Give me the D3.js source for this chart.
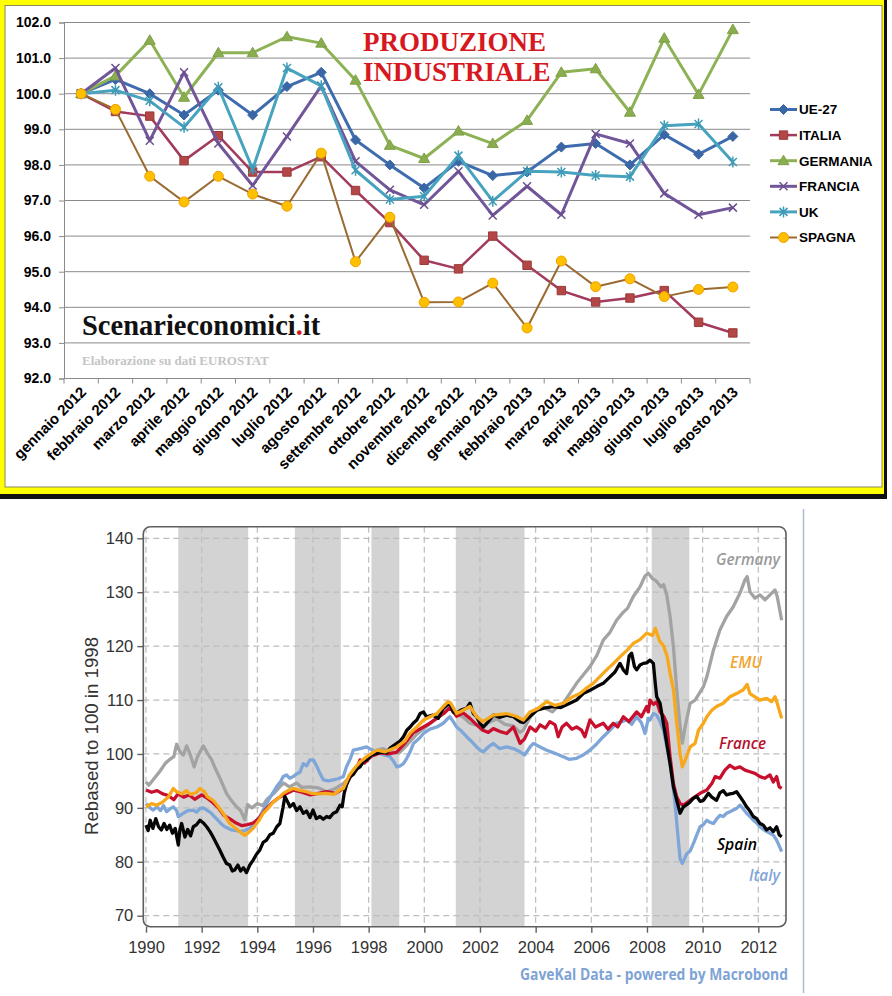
<!DOCTYPE html>
<html><head><meta charset="utf-8">
<script src="https://cdn.jsdelivr.net/npm/d3@7"></script>
<style>html,body{margin:0;padding:0;background:#fff;} svg{display:block;}</style>
</head><body>
<svg id="c" width="892" height="996"></svg>
<script>
// ---------------- TOP CHART DATA ----------------
const months = ["gennaio 2012","febbraio 2012","marzo 2012","aprile 2012","maggio 2012","giugno 2012","luglio 2012","agosto 2012","settembre 2012","ottobre 2012","novembre 2012","dicembre 2012","gennaio 2013","febbraio 2013","marzo 2013","aprile 2013","maggio 2013","giugno 2013","luglio 2013","agosto 2013"];
const ue27     = [100.0,100.4,100.0,99.4,100.1,99.4,100.2,100.6,98.7,98.0,97.35,98.1,97.7,97.8,98.5,98.6,98.0,98.85,98.3,98.8];
const italia   = [100.0,99.5,99.37,98.12,98.82,97.8,97.8,98.23,97.28,96.38,95.32,95.08,96.0,95.18,94.47,94.15,94.26,94.47,93.58,93.28];
const germania = [100.0,100.5,101.5,99.9,101.15,101.15,101.6,101.42,100.38,98.55,98.18,98.95,98.6,99.25,100.6,100.7,99.48,101.56,99.98,101.8];
const francia  = [100.0,100.72,98.68,100.6,98.6,97.42,98.8,100.22,98.1,97.3,96.88,97.82,96.58,97.4,96.6,98.87,98.6,97.2,96.6,96.8];
const uk       = [100.0,100.1,99.8,99.06,100.18,97.88,100.72,100.22,97.85,97.03,97.12,98.26,96.98,97.82,97.8,97.7,97.67,99.1,99.15,98.08];
const spagna   = [100.0,99.56,97.68,96.96,97.68,97.18,96.84,98.33,95.28,96.53,94.14,94.15,94.68,93.42,95.3,94.58,94.8,94.3,94.5,94.57];
const topYTicks = [92,93,94,95,96,97,98,99,100,101,102];
const topSeriesNames = ["UE-27","ITALIA","GERMANIA","FRANCIA","UK","SPAGNA"];

// ---------------- BOTTOM CHART DATA ----------------
const bottomYTicks = [70,80,90,100,110,120,130,140];
const bottomXTicks = [1990,1992,1994,1996,1998,2000,2002,2004,2006,2008,2010,2012];
const recessionStart = [1991.16,1995.35,1998.1,2001.13,2008.17];
const recessionEnd   = [1993.67,1997.0,1999.1,2003.6,2009.52];
const germany = [[1990.0,94.8],[1990.1,94.2],[1990.3,95.5],[1990.5,96.8],[1990.7,98.3],[1990.86,99.0],[1991.0,99.5],[1991.1,101.8],[1991.22,100.4],[1991.34,99.8],[1991.46,101.5],[1991.58,100.0],[1991.73,97.6],[1991.85,99.5],[1992.06,101.5],[1992.2,100.2],[1992.35,99.0],[1992.5,97.2],[1992.7,95.0],[1992.9,92.6],[1993.05,91.5],[1993.25,90.2],[1993.4,89.5],[1993.55,87.8],[1993.65,90.6],[1993.8,90.0],[1994.0,90.8],[1994.2,90.4],[1994.35,91.6],[1994.6,92.7],[1994.82,94.0],[1994.95,94.6],[1995.15,93.9],[1995.41,94.6],[1995.6,93.8],[1995.89,93.9],[1996.2,93.7],[1996.5,93.0],[1996.8,93.6],[1997.09,94.5],[1997.33,95.8],[1997.6,97.5],[1997.9,99.0],[1998.2,100.5],[1998.5,101.0],[1998.8,100.4],[1999.1,100.2],[1999.4,101.8],[1999.7,103.5],[2000.0,104.8],[2000.3,106.0],[2000.6,107.3],[2000.92,109.0],[2001.16,107.5],[2001.4,106.8],[2001.64,105.7],[2001.9,105.3],[2002.1,104.8],[2002.3,105.8],[2002.6,106.5],[2002.9,105.5],[2003.2,105.2],[2003.44,104.0],[2003.56,104.4],[2003.8,106.8],[2004.04,108.1],[2004.3,108.6],[2004.6,107.8],[2004.8,108.8],[2004.99,109.4],[2005.2,111.0],[2005.47,113.1],[2005.7,114.6],[2005.95,116.2],[2006.2,118.3],[2006.43,121.1],[2006.65,122.4],[2006.91,124.8],[2007.15,126.3],[2007.3,127.0],[2007.51,129.2],[2007.75,131.0],[2007.93,133.0],[2008.05,133.5],[2008.2,132.5],[2008.35,132.0],[2008.5,131.0],[2008.6,131.4],[2008.71,129.5],[2008.83,125.5],[2008.95,119.9],[2009.07,111.9],[2009.19,105.1],[2009.27,102.0],[2009.37,105.0],[2009.55,109.4],[2009.73,110.0],[2010.03,112.5],[2010.15,114.3],[2010.39,119.3],[2010.62,123.0],[2010.86,125.5],[2011.1,127.3],[2011.34,129.8],[2011.52,132.3],[2011.6,132.9],[2011.7,130.1],[2011.88,128.9],[2012.06,129.5],[2012.24,128.6],[2012.42,129.5],[2012.6,130.4],[2012.68,129.2],[2012.84,124.8]];
const emu = [[1990.0,90.2],[1990.2,90.8],[1990.38,90.5],[1990.6,91.1],[1990.8,92.0],[1990.98,93.6],[1991.1,93.0],[1991.3,92.6],[1991.45,93.2],[1991.6,92.5],[1991.8,92.8],[1991.94,93.6],[1992.1,93.0],[1992.2,92.1],[1992.41,91.4],[1992.6,90.2],[1992.77,89.0],[1993.01,87.1],[1993.2,86.3],[1993.37,85.6],[1993.55,84.9],[1993.7,85.5],[1993.85,86.2],[1994.05,87.6],[1994.21,89.0],[1994.4,90.0],[1994.57,91.1],[1994.8,92.0],[1994.93,92.7],[1995.1,93.2],[1995.29,93.6],[1995.5,93.3],[1995.77,93.0],[1995.95,92.7],[1996.2,92.6],[1996.49,92.7],[1996.75,92.5],[1996.95,93.3],[1997.09,93.6],[1997.3,96.0],[1997.5,97.4],[1997.69,98.5],[1997.93,99.5],[1998.29,100.7],[1998.6,100.4],[1999.01,101.3],[1999.3,102.4],[1999.49,103.9],[1999.73,105.0],[1999.97,106.3],[2000.25,107.0],[2000.45,107.5],[2000.68,108.8],[2000.85,109.7],[2000.95,109.4],[2001.16,107.5],[2001.4,108.1],[2001.64,108.8],[2001.88,106.9],[2002.1,106.0],[2002.48,107.2],[2002.96,107.5],[2003.3,107.0],[2003.56,106.3],[2003.8,107.8],[2004.1,108.5],[2004.4,109.7],[2004.7,109.0],[2004.99,109.4],[2005.3,110.5],[2005.59,111.2],[2005.85,112.3],[2006.07,113.1],[2006.3,114.3],[2006.55,115.6],[2006.8,116.8],[2007.03,118.0],[2007.3,119.3],[2007.51,120.5],[2007.75,121.2],[2007.99,122.4],[2008.2,122.0],[2008.3,123.3],[2008.45,121.0],[2008.6,120.0],[2008.72,118.2],[2008.83,115.0],[2008.95,112.0],[2009.07,105.7],[2009.19,100.1],[2009.27,97.6],[2009.37,98.8],[2009.55,101.3],[2009.73,101.96],[2009.85,104.4],[2010.03,105.7],[2010.15,106.9],[2010.33,108.1],[2010.5,108.8],[2010.74,109.4],[2010.98,110.6],[2011.22,111.2],[2011.46,111.9],[2011.6,112.9],[2011.7,111.2],[2011.88,110.6],[2012.06,110.0],[2012.3,110.3],[2012.48,109.7],[2012.6,110.6],[2012.68,109.4],[2012.84,106.6]];
const france = [[1990.0,93.3],[1990.2,92.9],[1990.4,93.2],[1990.6,92.6],[1990.8,92.3],[1991.0,91.5],[1991.15,92.6],[1991.35,92.0],[1991.55,92.4],[1991.75,91.6],[1992.0,92.4],[1992.2,91.8],[1992.4,91.0],[1992.6,90.0],[1992.8,88.6],[1993.0,88.0],[1993.2,87.3],[1993.45,86.7],[1993.65,86.9],[1993.85,87.2],[1994.05,88.0],[1994.25,89.4],[1994.5,90.8],[1994.75,91.8],[1995.0,92.5],[1995.3,93.3],[1995.6,92.9],[1995.9,92.4],[1996.2,92.7],[1996.5,93.0],[1996.8,92.7],[1997.1,93.6],[1997.35,95.8],[1997.55,97.0],[1997.69,98.9],[1997.85,98.3],[1998.1,99.6],[1998.4,100.2],[1998.7,100.0],[1999.0,100.3],[1999.3,102.0],[1999.6,103.9],[1999.97,105.0],[2000.2,105.7],[2000.45,106.6],[2000.7,107.5],[2000.92,108.6],[2001.16,107.0],[2001.4,107.6],[2001.64,106.6],[2001.88,105.4],[2002.1,104.4],[2002.3,104.0],[2002.48,104.7],[2002.7,104.2],[2002.96,103.8],[2003.2,105.0],[2003.44,101.96],[2003.6,102.8],[2003.8,105.0],[2004.0,104.2],[2004.16,105.4],[2004.35,104.8],[2004.51,106.0],[2004.7,105.4],[2004.81,103.2],[2004.95,105.0],[2005.11,105.7],[2005.3,104.6],[2005.47,105.0],[2005.65,104.4],[2005.77,103.2],[2005.95,106.3],[2006.15,105.0],[2006.43,105.7],[2006.6,104.6],[2006.79,105.7],[2006.95,105.0],[2007.15,106.9],[2007.35,106.0],[2007.63,107.8],[2007.8,106.9],[2007.99,108.8],[2008.05,107.8],[2008.11,110.0],[2008.23,109.2],[2008.35,109.7],[2008.47,107.8],[2008.6,107.0],[2008.71,105.7],[2008.83,99.5],[2008.95,94.5],[2009.07,92.0],[2009.19,90.8],[2009.31,90.5],[2009.55,91.4],[2009.73,92.1],[2009.91,92.7],[2010.15,93.3],[2010.33,94.5],[2010.45,95.8],[2010.62,95.5],[2010.8,97.0],[2010.98,97.9],[2011.16,97.3],[2011.34,97.6],[2011.52,97.0],[2011.7,96.7],[2011.88,96.4],[2012.06,95.8],[2012.24,95.5],[2012.42,96.1],[2012.54,94.8],[2012.66,95.8],[2012.75,93.9],[2012.84,93.6]];
const spain = [[1990.0,86.8],[1990.08,85.8],[1990.15,87.7],[1990.25,86.2],[1990.35,88.0],[1990.45,86.5],[1990.55,85.9],[1990.65,87.1],[1990.75,86.0],[1990.85,86.8],[1990.95,85.3],[1991.05,86.2],[1991.16,83.1],[1991.22,86.0],[1991.28,87.1],[1991.4,84.6],[1991.5,86.0],[1991.6,84.8],[1991.7,86.5],[1991.82,86.9],[1991.94,87.7],[1992.06,87.2],[1992.18,86.5],[1992.3,85.6],[1992.41,84.6],[1992.53,83.4],[1992.65,82.2],[1992.77,80.9],[1992.89,79.7],[1993.01,79.4],[1993.1,78.3],[1993.19,78.5],[1993.3,79.4],[1993.4,78.3],[1993.5,78.9],[1993.61,78.0],[1993.73,79.4],[1993.85,80.3],[1993.97,81.4],[1994.09,82.2],[1994.21,83.6],[1994.33,84.0],[1994.45,85.0],[1994.57,85.3],[1994.7,86.5],[1994.81,87.1],[1994.92,90.0],[1994.99,92.1],[1995.1,91.0],[1995.17,90.2],[1995.3,90.8],[1995.41,89.5],[1995.53,90.2],[1995.65,89.0],[1995.77,89.4],[1995.89,88.2],[1996.0,89.6],[1996.12,88.0],[1996.25,88.4],[1996.37,87.9],[1996.49,88.4],[1996.6,88.2],[1996.73,89.0],[1996.85,89.3],[1996.97,90.5],[1997.05,90.2],[1997.12,92.7],[1997.2,94.2],[1997.33,95.8],[1997.45,96.2],[1997.57,97.2],[1997.69,97.6],[1997.81,98.6],[1997.93,98.9],[1998.1,99.8],[1998.29,100.1],[1998.5,100.4],[1998.65,100.2],[1998.77,101.1],[1999.01,101.96],[1999.13,102.4],[1999.25,103.2],[1999.37,104.4],[1999.49,105.0],[1999.6,105.7],[1999.73,106.3],[1999.85,107.5],[1999.97,107.8],[2000.08,106.9],[2000.3,107.2],[2000.5,106.6],[2000.68,108.5],[2000.8,109.0],[2000.92,109.4],[2001.04,107.8],[2001.16,107.5],[2001.3,108.1],[2001.52,108.5],[2001.64,109.4],[2001.76,107.5],[2001.88,106.9],[2002.0,105.7],[2002.12,105.0],[2002.3,106.0],[2002.48,107.2],[2002.7,106.8],[2002.96,107.2],[2003.2,106.9],[2003.44,106.0],[2003.56,105.8],[2003.8,107.0],[2004.04,108.1],[2004.3,108.5],[2004.63,108.8],[2004.9,108.6],[2005.23,109.4],[2005.47,110.0],[2005.71,111.2],[2005.95,111.8],[2006.19,112.5],[2006.43,113.1],[2006.67,114.3],[2006.85,115.2],[2007.03,116.8],[2007.15,115.6],[2007.27,114.9],[2007.36,118.2],[2007.45,118.7],[2007.55,116.2],[2007.63,115.6],[2007.75,116.5],[2007.87,116.8],[2007.99,116.9],[2008.11,117.4],[2008.23,116.8],[2008.3,113.0],[2008.35,110.6],[2008.47,109.4],[2008.59,105.7],[2008.71,101.96],[2008.83,98.2],[2008.95,93.9],[2009.07,91.4],[2009.19,89.0],[2009.31,90.2],[2009.43,90.6],[2009.55,91.1],[2009.67,91.8],[2009.79,92.1],[2009.91,91.2],[2010.03,91.4],[2010.21,92.7],[2010.33,92.0],[2010.5,91.4],[2010.62,92.8],[2010.74,93.2],[2010.86,92.4],[2010.98,92.6],[2011.1,92.7],[2011.22,93.0],[2011.34,92.1],[2011.46,91.2],[2011.58,90.2],[2011.7,89.4],[2011.82,88.4],[2011.94,88.0],[2012.06,87.1],[2012.18,86.8],[2012.3,85.9],[2012.42,86.3],[2012.54,85.6],[2012.66,86.5],[2012.75,85.0],[2012.84,84.65]];
const italy = [[1990.0,90.8],[1990.15,90.0],[1990.26,89.6],[1990.4,90.2],[1990.52,89.5],[1990.63,90.4],[1990.74,89.3],[1990.86,89.8],[1990.98,90.2],[1991.1,89.5],[1991.16,88.4],[1991.28,88.8],[1991.34,89.0],[1991.5,89.5],[1991.7,89.6],[1991.82,89.2],[1991.94,89.9],[1992.06,90.0],[1992.18,89.6],[1992.3,89.2],[1992.35,89.0],[1992.47,88.3],[1992.59,87.7],[1992.71,87.0],[1992.83,86.5],[1992.95,86.2],[1993.07,85.9],[1993.25,85.8],[1993.37,85.6],[1993.55,85.8],[1993.73,86.2],[1993.9,87.2],[1994.09,88.4],[1994.21,89.6],[1994.33,90.8],[1994.5,92.3],[1994.69,93.9],[1994.85,95.0],[1994.93,95.8],[1995.05,96.1],[1995.17,95.5],[1995.29,95.8],[1995.41,96.3],[1995.53,96.6],[1995.65,98.2],[1995.77,97.8],[1995.89,98.9],[1996.01,98.9],[1996.13,97.8],[1996.25,96.4],[1996.37,95.2],[1996.55,95.0],[1996.73,95.2],[1996.9,95.4],[1997.09,95.8],[1997.2,97.6],[1997.33,99.0],[1997.45,100.7],[1997.69,101.0],[1997.93,101.3],[1998.1,100.8],[1998.29,100.4],[1998.5,99.9],[1998.77,99.5],[1998.9,98.6],[1999.01,97.6],[1999.13,97.8],[1999.25,98.2],[1999.37,99.2],[1999.49,100.4],[1999.61,101.96],[1999.8,102.8],[1999.97,103.8],[2000.2,104.6],[2000.45,105.0],[2000.68,105.7],[2000.85,106.6],[2000.92,106.9],[2001.04,106.0],[2001.16,105.0],[2001.3,104.4],[2001.52,103.2],[2001.7,102.3],[2001.88,101.3],[2002.0,100.7],[2002.12,100.4],[2002.3,101.3],[2002.48,101.96],[2002.7,101.0],[2002.96,101.3],[2003.2,101.0],[2003.44,100.4],[2003.6,99.8],[2003.8,101.3],[2003.92,101.96],[2004.16,101.3],[2004.4,100.7],[2004.6,100.3],[2004.8,99.9],[2004.99,99.5],[2005.2,99.0],[2005.47,99.2],[2005.7,99.8],[2005.95,100.7],[2006.2,101.9],[2006.43,103.2],[2006.67,104.4],[2006.91,105.7],[2007.1,106.0],[2007.27,106.3],[2007.45,105.5],[2007.63,106.9],[2007.8,105.8],[2007.93,103.8],[2008.05,106.6],[2008.11,106.3],[2008.23,107.5],[2008.35,107.2],[2008.47,106.0],[2008.59,104.4],[2008.71,101.5],[2008.83,98.2],[2008.95,93.5],[2009.01,90.8],[2009.1,85.5],[2009.19,80.5],[2009.27,79.7],[2009.43,81.5],[2009.55,82.0],[2009.67,83.4],[2009.79,85.0],[2009.91,86.5],[2010.03,86.9],[2010.15,87.7],[2010.27,87.3],[2010.39,87.1],[2010.5,87.9],[2010.62,88.6],[2010.74,88.4],[2010.86,89.0],[2010.98,89.3],[2011.1,89.6],[2011.22,89.9],[2011.34,90.5],[2011.46,89.8],[2011.58,89.0],[2011.7,88.4],[2011.82,87.7],[2011.94,87.2],[2012.06,86.5],[2012.18,86.0],[2012.3,85.6],[2012.42,85.3],[2012.54,84.95],[2012.66,84.0],[2012.75,83.0],[2012.84,81.9]];

// ---------------- DRAW ----------------
const svg = d3.select("#c");
svg.append("rect").attr("width",892).attr("height",996).attr("fill","#fff");

// ===== top panel frame =====
svg.append("rect").attr("x",0).attr("y",0).attr("width",887).attr("height",497).attr("fill","#ffff00");
svg.append("rect").attr("x",884).attr("y",0).attr("width",3).attr("height",499).attr("fill","#111");
svg.append("rect").attr("x",0).attr("y",494).attr("width",887).attr("height",5).attr("fill","#111");
svg.append("rect").attr("x",5).attr("y",5.5).attr("width",877).attr("height",481.5).attr("fill","#fff").attr("stroke","#8a8a5a").attr("stroke-width",1);

const tx = d3.scaleBand().domain(months).range([64,750]);
const ty = d3.scaleLinear().domain([92,102]).range([378.5,22.5]);
const topG = svg.append("g");

topG.selectAll("line.grid").data(topYTicks.filter(d=>d>92)).join("line").attr("class","grid")
  .attr("x1",64).attr("x2",750).attr("y1",d=>ty(d)).attr("y2",d=>ty(d))
  .attr("stroke","#8a8a8a").attr("stroke-width",1);
const yAx = topG.append("g").attr("transform","translate(64,0)")
  .call(d3.axisLeft(ty).tickValues(topYTicks).tickFormat(d3.format(".1f")).tickSize(5).tickPadding(8));
yAx.select(".domain").attr("stroke","#8a8a8a");
yAx.selectAll(".tick line").attr("stroke","#8a8a8a");
yAx.selectAll("text").attr("font-family","'Liberation Sans',Arial,sans-serif").attr("font-weight","bold").attr("font-size",14).attr("fill","#000");

const xAx = topG.append("g").attr("transform","translate(0,378.5)");
xAx.append("line").attr("x1",64).attr("x2",750).attr("stroke","#8a8a8a");
const bounds = months.map((m)=>tx(m)).concat([750]);
xAx.selectAll("line.tk").data(bounds).join("line").attr("class","tk")
  .attr("x1",d=>d).attr("x2",d=>d).attr("y1",0).attr("y2",5).attr("stroke","#8a8a8a");
topG.selectAll("text.xl").data(months).join("text").attr("class","xl")
  .attr("transform",d=>`translate(${tx(d)+tx.bandwidth()/2+6},393) rotate(-45)`)
  .attr("text-anchor","end")
  .attr("font-family","'Liberation Sans',Arial,sans-serif").attr("font-weight","bold").attr("font-size",15)
  .text(d=>d);

const title = topG.append("text").attr("fill","#d7191f")
  .attr("font-family","'Liberation Serif','Times New Roman',serif").attr("font-weight","bold").attr("font-size",27);
title.append("tspan").attr("x",363).attr("y",51).text("PRODUZIONE");
title.append("tspan").attr("x",363).attr("y",81).text("INDUSTRIALE");
const se = topG.append("text").attr("x",82).attr("y",335)
  .attr("font-family","'Liberation Serif','Times New Roman',serif").attr("font-weight","bold").attr("font-size",28.5).attr("fill","#111");
se.append("tspan").text("Scenarieconomici");
se.append("tspan").attr("fill","#d7191f").text(".");
se.append("tspan").text("it");
topG.append("text").attr("x",82).attr("y",365).text("Elaborazione su dati EUROSTAT")
  .attr("font-family","'Liberation Serif','Times New Roman',serif").attr("font-weight","bold").attr("font-size",13).attr("fill","#c4c4c4");

function markerPath(kind){
  switch(kind){
    case "diamond": return "M0,-5L5,0L0,5L-5,0Z";
    case "square": return "M-4.2,-4.2H4.2V4.2H-4.2Z";
    case "triangle": return "M0,-5.5L5.5,4L-5.5,4Z";
    case "x": return "M-4,-4L4,4M-4,4L4,-4";
    case "star": return "M-4,-4L4,4M-4,4L4,-4M0,-5.5L0,5.5";
    case "circle": return "M-5,0A5,5 0 1,0 5,0A5,5 0 1,0 -5,0Z";
  }
}
const topSeries = [
  {name:topSeriesNames[0], vals:ue27, line:"#3f6cae", fill:"#3a66a6", stroke:"#3a66a6", kind:"diamond", w:3},
  {name:topSeriesNames[1], vals:italia, line:"#a23b5c", fill:"#b34646", stroke:"#9c3a38", kind:"square", w:2.5},
  {name:topSeriesNames[2], vals:germania, line:"#8db255", fill:"#8aae4f", stroke:"#7fa045", kind:"triangle", w:3},
  {name:topSeriesNames[3], vals:francia, line:"#72569a", fill:"none", stroke:"#6a4f8e", kind:"x", w:3},
  {name:topSeriesNames[4], vals:uk, line:"#48a3bf", fill:"none", stroke:"#3e9ab6", kind:"star", w:3},
  {name:topSeriesNames[5], vals:spagna, line:"#9b6a30", fill:"#ffc000", stroke:"#f0a000", kind:"circle", w:2}
];
const tline = d3.line().x((d,i)=>tx(months[i])+tx.bandwidth()/2).y(d=>ty(d));
topSeries.forEach(s=>{
  const g = topG.append("g");
  g.append("path").attr("d",tline(s.vals)).attr("fill","none").attr("stroke",s.line).attr("stroke-width",s.w).attr("stroke-linejoin","round");
  g.selectAll("path.m").data(s.vals).join("path").attr("class","m")
    .attr("transform",(d,i)=>`translate(${tx(months[i])+tx.bandwidth()/2},${ty(d)})`)
    .attr("d",markerPath(s.kind)).attr("fill",s.fill).attr("stroke",s.stroke).attr("stroke-width",(s.kind==="x"||s.kind==="star")?1.5:1);
});
const leg = topG.append("g");
topSeries.forEach((s,i)=>{
  const y = 109.5 + i*25.6;
  leg.append("line").attr("x1",770).attr("x2",797).attr("y1",y).attr("y2",y).attr("stroke",s.line).attr("stroke-width",s.w);
  leg.append("path").attr("transform",`translate(783.5,${y})`).attr("d",markerPath(s.kind)).attr("fill",s.fill).attr("stroke",s.stroke).attr("stroke-width",(s.kind==="x"||s.kind==="star")?1.5:1);
  leg.append("text").attr("x",799).attr("y",y+4.8).text(s.name)
    .attr("font-family","'Liberation Sans',Arial,sans-serif").attr("font-weight","bold").attr("font-size",13.5);
});

// ===== bottom chart =====
const bx = d3.scaleLinear().domain([1990,2012]).range([146,758.3]);
const by = d3.scaleLinear().domain([70,140]).range([915.7,538.3]);
const fx0=143.3, fx1=786, fy0=526.7, fy1=926.7;
const botG = svg.append("g");
svg.append("defs").append("clipPath").attr("id","fr").append("rect")
  .attr("x",fx0).attr("y",fy0).attr("width",fx1-fx0).attr("height",fy1-fy0).attr("rx",7);
botG.append("line").attr("x1",803.5).attr("x2",803.5).attr("y1",509).attr("y2",993).attr("stroke","#a9bad2").attr("stroke-width",1.5);
const inner = botG.append("g").attr("clip-path","url(#fr)");
inner.selectAll("rect.rec").data(recessionStart).join("rect").attr("class","rec")
  .attr("x",(d)=>bx(d)).attr("width",(d,i)=>bx(recessionEnd[i])-bx(d)).attr("y",fy0).attr("height",fy1-fy0).attr("fill","#d3d3d3");
inner.selectAll("line.hg").data(bottomYTicks).join("line").attr("class","hg")
  .attr("x1",fx0).attr("x2",fx1).attr("y1",d=>by(d)).attr("y2",d=>by(d))
  .attr("stroke","#bdbdbd").attr("stroke-width",1.2).attr("stroke-dasharray","6,4");
inner.selectAll("line.vg").data(bottomXTicks).join("line").attr("class","vg")
  .attr("y1",fy0).attr("y2",fy1).attr("x1",d=>bx(d)).attr("x2",d=>bx(d))
  .attr("stroke","#bdbdbd").attr("stroke-width",1.2).attr("stroke-dasharray","6,4");
const bline = d3.line().x(d=>bx(d[0])).y(d=>by(d[1]));
const botSeries = [
  {d:germany, c:"#a3a3a3"},
  {d:italy, c:"#7fa6d8"},
  {d:france, c:"#c8102e"},
  {d:spain, c:"#050505"},
  {d:emu, c:"#f7a81b"}
];
botSeries.forEach(s=>{
  inner.append("path").attr("d",bline(s.d)).attr("fill","none").attr("stroke",s.c).attr("stroke-width",3.3).attr("stroke-linejoin","round");
});
botG.append("rect").attr("x",fx0).attr("y",fy0).attr("width",fx1-fx0).attr("height",fy1-fy0).attr("rx",7)
  .attr("fill","none").attr("stroke","#5f5f5f").attr("stroke-width",1.6);
const bY = botG.append("g").attr("transform",`translate(${fx0},0)`)
  .call(d3.axisLeft(by).tickValues(bottomYTicks).tickSize(6).tickPadding(4));
bY.select(".domain").remove();
bY.selectAll(".tick line").attr("stroke","#5f5f5f").attr("stroke-width",1.4);
bY.selectAll("text").attr("font-family","'Liberation Sans',Arial,sans-serif").attr("font-size",16.5).attr("fill","#333");
const bX = botG.append("g").attr("transform",`translate(0,${fy1})`)
  .call(d3.axisBottom(bx).tickValues(bottomXTicks).tickFormat(d3.format("d")).tickSize(6).tickPadding(9));
bX.select(".domain").remove();
bX.selectAll(".tick line").attr("stroke","#5f5f5f").attr("stroke-width",1.4);
bX.selectAll("text").attr("font-family","'Liberation Sans',Arial,sans-serif").attr("font-size",16.5).attr("fill","#333");

botG.append("text").attr("transform","translate(98,736) rotate(-90)").attr("text-anchor","middle")
  .attr("font-family","'Liberation Sans',Arial,sans-serif").attr("font-size",17.5).attr("fill","#333")
  .attr("textLength",198).attr("lengthAdjust","spacingAndGlyphs").text("Rebased to 100 in 1998");

const lab = [
  {t:"Germany", x:780, y:565, c:"#9a9a9a", w:64},
  {t:"EMU", x:762, y:668, c:"#f2a531", w:32},
  {t:"France", x:766, y:749, c:"#b5122e", w:47},
  {t:"Spain", x:757, y:850, c:"#000", w:40},
  {t:"Italy", x:780, y:881, c:"#7fa6d8", w:31}
];
botG.selectAll("text.sl").data(lab).join("text").attr("class","sl")
  .attr("x",d=>d.x).attr("y",d=>d.y).attr("text-anchor","end").attr("fill",d=>d.c)
  .attr("font-family","'Open Sans','Liberation Sans',sans-serif").attr("font-style","italic").attr("font-weight","600").attr("font-size",17)
  .attr("textLength",d=>d.w).attr("lengthAdjust","spacingAndGlyphs").text(d=>d.t);
botG.append("text").attr("x",788).attr("y",980).attr("text-anchor","end").attr("fill","#7ea3d4")
  .attr("font-family","'Open Sans','Liberation Sans',sans-serif").attr("font-weight","bold").attr("font-size",15.5)
  .attr("textLength",268).attr("lengthAdjust","spacingAndGlyphs").text("GaveKal Data - powered by Macrobond");
</script>
</body></html>
